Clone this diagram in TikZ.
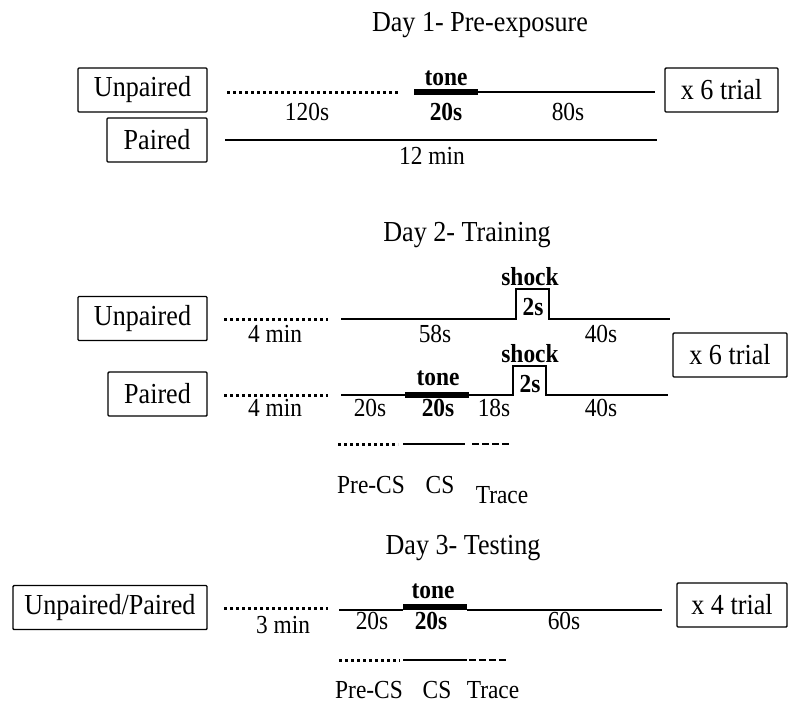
\documentclass[tikz,border=0pt]{standalone}
\usepackage{fontspec}
\setmainfont[FakeStretch=0.9]{Liberation Serif}
\tikzset{
  lbl/.style={draw, line width=1.4pt, rounded corners=1pt, inner sep=0pt, minimum height=44pt, font=\fontsize{29}{32}\selectfont},
  title/.style={anchor=base, inner sep=0pt, font=\fontsize{29}{32}\selectfont},
  txt/.style={anchor=base, inner sep=0pt, font=\fontsize{26}{30}\selectfont},
  btxt/.style={anchor=base, inner sep=0pt, font=\fontsize{26}{30}\selectfont\bfseries},
  wait/.style={line width=3pt, dash pattern=on 3pt off 3pt},
  base/.style={line width=1.5pt},
  tone/.style={line width=5.5pt},
  cs/.style={line width=2.5pt},
  trace/.style={line width=2pt, dash pattern=on 7pt off 3pt},
}
\begin{document}
\begin{tikzpicture}[x=1pt,y=-1pt]
\useasboundingbox (0,0) rectangle (800,705);

% Day 1
\node[title] (t1) at (480,31) {Day 1- Pre-exposure};
\node[lbl, minimum width=129pt] (unp1) at (142.5,90) {Unpaired};
\node[lbl, minimum width=100pt] (par1) at (157,140) {Paired};
\node[lbl, minimum width=113pt] (rep1) at (721.5,90) {x 6 trial};

\draw[wait] (227,92) -- (400,92);
\draw[tone] (414,92) -- (478,92);
\draw[base] (478,92) -- (655,92);
\draw[base] (225,140) -- (657,140);

\node[btxt] (tone1) at (446,85) {tone};
\node[txt] (w1) at (307,120) {120s};
\node[btxt] (cs1) at (446,120) {20s};
\node[txt] (post1) at (568,120) {80s};
\node[txt] (all1) at (432,164) {12 min};

% Day 2
\node[title] (t2) at (467,241) {Day 2- Training};
\node[lbl, minimum width=129pt] (unp2) at (142.5,318.5) {Unpaired};
\node[lbl, minimum width=99pt] (par2) at (157.5,394) {Paired};
\node[lbl, minimum width=114pt] (rep2) at (730,355) {x 6 trial};

\draw[wait] (224,319) -- (328,319);
\draw[base] (341,319) -- (516,319) -- (516,289) -- (549,289) -- (549,319) -- (670,319);
\draw[wait] (224,395) -- (328,395);
\draw[base] (341,395) -- (405,395);
\draw[tone] (405,395) -- (469,395);
\draw[base] (469,395) -- (513,395) -- (513,366) -- (546,366) -- (546,395) -- (668,395);

\node[btxt] (sh2u) at (530,285) {shock};
\node[btxt] (us2u) at (533,315) {2s};
\node[txt] (w2u) at (275,342) {4 min};
\node[txt] (pre2u) at (435,342) {58s};
\node[txt] (post2u) at (601,342) {40s};

\node[btxt] (sh2p) at (530,362) {shock};
\node[btxt] (us2p) at (530,392) {2s};
\node[btxt] (tone2) at (438,385) {tone};
\node[txt] (w2p) at (275,416) {4 min};
\node[txt] (pre2p) at (370,416) {20s};
\node[btxt] (cs2) at (438,416) {20s};
\node[txt] (tr2) at (494,416) {18s};
\node[txt] (post2p) at (601,416) {40s};

% legend
\draw[wait] (338,444) -- (398,444);
\draw[cs] (403,444) -- (465,444);
\draw[trace] (472,444) -- (512,444);
\node[txt] (lpre2) at (371,493) {Pre-CS};
\node[txt] (lcs2) at (440,493) {CS};
\node[txt] (ltr2) at (502,503) {Trace};

% Day 3
\node[title] (t3) at (463,554) {Day 3- Testing};
\node[lbl, minimum width=194pt] (grp3) at (110,607.5) {Unpaired/Paired};
\node[lbl, minimum width=110pt] (rep3) at (732,605) {x 4 trial};

\draw[wait] (224,608) -- (328,608);
\draw[base] (339,610) -- (403,610);
\draw[tone] (403,607) -- (467,607);
\draw[base] (467,610) -- (662,610);

\node[btxt] (tone3) at (433,598) {tone};
\node[txt] (w3) at (283,633) {3 min};
\node[txt] (pre3) at (372,629) {20s};
\node[btxt] (cs3) at (431,629) {20s};
\node[txt] (post3) at (564,629) {60s};

% legend
\draw[wait] (339,660) -- (400,660);
\draw[cs] (403,660) -- (467,660);
\draw[trace] (469,660) -- (508,660);
\node[txt] (lpre3) at (369,698) {Pre-CS};
\node[txt] (lcs3) at (437,698) {CS};
\node[txt] (ltr3) at (493,698) {Trace};
\end{tikzpicture}
\end{document}
